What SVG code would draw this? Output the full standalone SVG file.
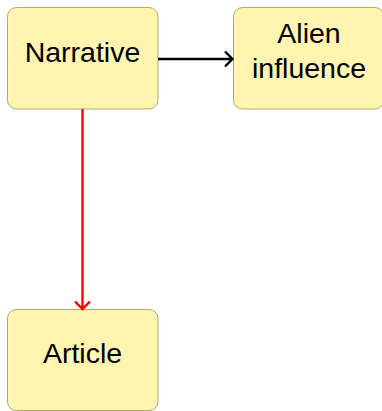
<svg xmlns="http://www.w3.org/2000/svg" width="382" height="411" viewBox="0 0 382 411">
<style>
.node rect{fill:#fff5b0;stroke:#b3a96e;stroke-width:1}
.node text{font-family:"Liberation Sans",Arial,sans-serif;font-size:28.5px;fill:#000;text-anchor:middle}
.edge{fill:none;stroke-width:2.4}
</style>
<rect width="382" height="411" fill="#fff"/>
<g id="narrative" class="node">
<rect x="7.5" y="7.5" width="150.5" height="101.5" rx="9"/>
<text x="82.5" y="62">Narrative</text>
</g>
<g id="alien" class="node">
<rect x="233.5" y="7.5" width="150.5" height="101.5" rx="9"/>
<text x="309" y="43">Alien</text>
<text x="309" y="78">influence</text>
</g>
<g id="article" class="node">
<rect x="7.5" y="309.5" width="150.5" height="101" rx="9"/>
<text x="82.5" y="363">Article</text>
</g>
<g id="connectors">
<path class="edge" stroke="#000" d="M158,59 H232 M225,51.5 L232.5,59 L225,66.5"/>
<path class="edge" stroke="#ff0000" d="M82.5,109 V308.5 M75,301.5 L82.5,309 L90,301.5"/>
</g>
</svg>
